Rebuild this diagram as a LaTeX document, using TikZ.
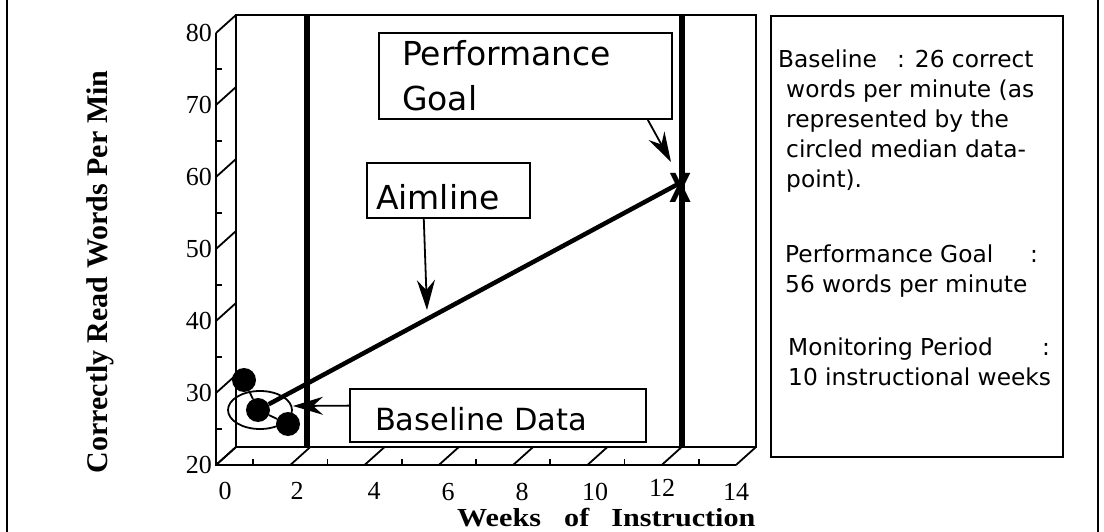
\documentclass[tikz,border=0pt]{standalone}
\usepackage{fontspec}
\setmainfont{DejaVu Sans}
\newfontfamily\tms{Liberation Serif}
\usetikzlibrary{shapes.geometric,arrows.meta,calc}
\begin{document}
\begin{tikzpicture}[x=1pt,y=-1pt,
  thinl/.style={line width=1.8pt},
  thickv/.style={line width=5.5pt},
  lbox/.style={draw,line width=1.8pt,rectangle,inner sep=0pt},
  ylab/.style={font=\tms\fontsize{26}{26}\selectfont,anchor=east,inner sep=0pt},
  xlab/.style={font=\tms\fontsize{26}{26}\selectfont,inner sep=0pt},
  ptr/.style={line width=1.8pt,-{Stealth[length=30pt,width=18pt,inset=10pt]}},
  dot/.style={circle,fill=black,minimum size=24pt,inner sep=0pt},
  info/.style={font=\fontsize{23.3}{30}\selectfont,align=left,anchor=north west,inner sep=0pt}
]
\useasboundingbox (0,0) rectangle (1104,532);
% outer frame
\coordinate (fl1) at (7,0); \coordinate (fl2) at (7,532);
\coordinate (fr1) at (1098,0); \coordinate (fr2) at (1098,532);
\draw[thinl] (fl1) -- (fl2);
\draw[thinl] (fr1) -- (fr2);
% back panel and axes
\draw[thinl] (236,15) rectangle (756,447);
\draw[thinl] (216,33) -- (216,465) -- (736,465);
\foreach \v [evaluate=\v as \yy using {465-(\v-20)*7.2}] in {20,30,...,80} {
  \draw[thinl] (216,\yy) -- ++(20,-18);
  \node[ylab] (yl\v) at (212,\yy) {\v};
}
\foreach \v [evaluate=\v as \yy using {465-(\v-20)*7.2}] in {25,35,...,75} {
  \draw[thinl] (216,\yy) -- ++(6,0);
}
\foreach \k [evaluate=\k as \xx using {216+\k*74.2857}] in {0,...,7} {
  \draw[thinl] (\xx,465) -- ++(20,-18);
}
\foreach \k [evaluate=\k as \xx using {216+(\k+0.5)*74.2857}] in {0,...,6} {
  \draw[thinl] (\xx,465) -- ++(0,-6);
}
\foreach \t/\lx/\ly in {0/225/491,2/297/491,4/374/491,6/448/492,8/522/492,10/595/492,12/662/488,14/736/492} {
  \node[xlab] (xl\t) at (\lx,\ly) {\t};
}
% axis titles
\node[font=\tms\bfseries\fontsize{30}{30}\selectfont,rotate=90,anchor=base,inner sep=0pt] (ytitle) at (107,272) {Correctly Read Words Per Min};
\node[font=\tms\bfseries\fontsize{26}{26}\selectfont,xscale=1.16,anchor=base west,inner sep=0pt] (xtitle) at (457,526) {Weeks\hspace{20pt}of\hspace{19pt}Instruction};
% phase lines
\coordinate (v1t) at (307,15); \coordinate (v1b) at (307,447);
\coordinate (v2t) at (682,15); \coordinate (v2b) at (682,447);
\draw[thickv] (v1t) -- (v1b);
\draw[thickv] (v2t) -- (v2b);
% baseline data
\node[ellipse,draw,thinl,minimum width=64pt,minimum height=38pt,inner sep=0pt] (circ) at (260,410) {};
\node[dot] (d1) at (244,380) {};
\node[dot] (d2) at (258,410) {};
\node[dot] (d3) at (288,424) {};
\draw[thinl] (d1) -- (d2) -- (d3);
% aimline
\coordinate (goal) at (680,183);
\draw[line width=4.5pt] (d2) -- (goal);
\node[font=\bfseries\fontsize{40}{40}\selectfont,xscale=0.72,inner sep=0pt] (xm) at (681,188) {X};
% label boxes
\node[lbox,minimum width=296pt,minimum height=53pt,text width=246pt,align=left,
      font=\fontsize{30.5}{30.5}\selectfont,text height=29pt,text depth=0pt] (bd) at (498,415.5) {Baseline Data};
\node[lbox,minimum width=163pt,minimum height=55pt,text width=145pt,align=left,
      font=\fontsize{33}{33}\selectfont,text height=39pt,text depth=0pt] (aim) at (448.5,190.5) {Aimline};
\node[lbox,minimum width=293pt,minimum height=86pt,text width=247pt,align=left,
      font=\fontsize{33}{45}\selectfont] (pg) at (525.5,76) {Performance\\Goal};
\coordinate (btip) at (293,406);
\coordinate (atip) at (427,310);
\coordinate (pgtip) at (671,162);
\draw[ptr] ($(bd.north west)!0.32!(bd.south west)$) -- (btip);
\draw[ptr] ($(aim.south west)!0.35!(aim.south east)$) -- (atip);
\draw[ptr] ($(pg.south west)!0.915!(pg.south east)$) -- (pgtip);
% info box
\node[lbox,minimum width=292pt,minimum height=441pt] (infobox) at (917,236.5) {};
\node[info] (info1) at (778,50) {\makebox[119pt][l]{Baseline}: 26 correct\\\hspace*{8pt}words per minute (as\\\hspace*{8pt}represented by the\\\hspace*{8pt}circled median data-\\\hspace*{8pt}point).};
\node[info] (info2) at (785,245) {\makebox[245pt][l]{Performance Goal}:\\56 words per minute};
\node[info] (info3) at (788,338) {\makebox[254pt][l]{Monitoring Period}:\\10 instructional weeks};
\end{tikzpicture}
\end{document}
